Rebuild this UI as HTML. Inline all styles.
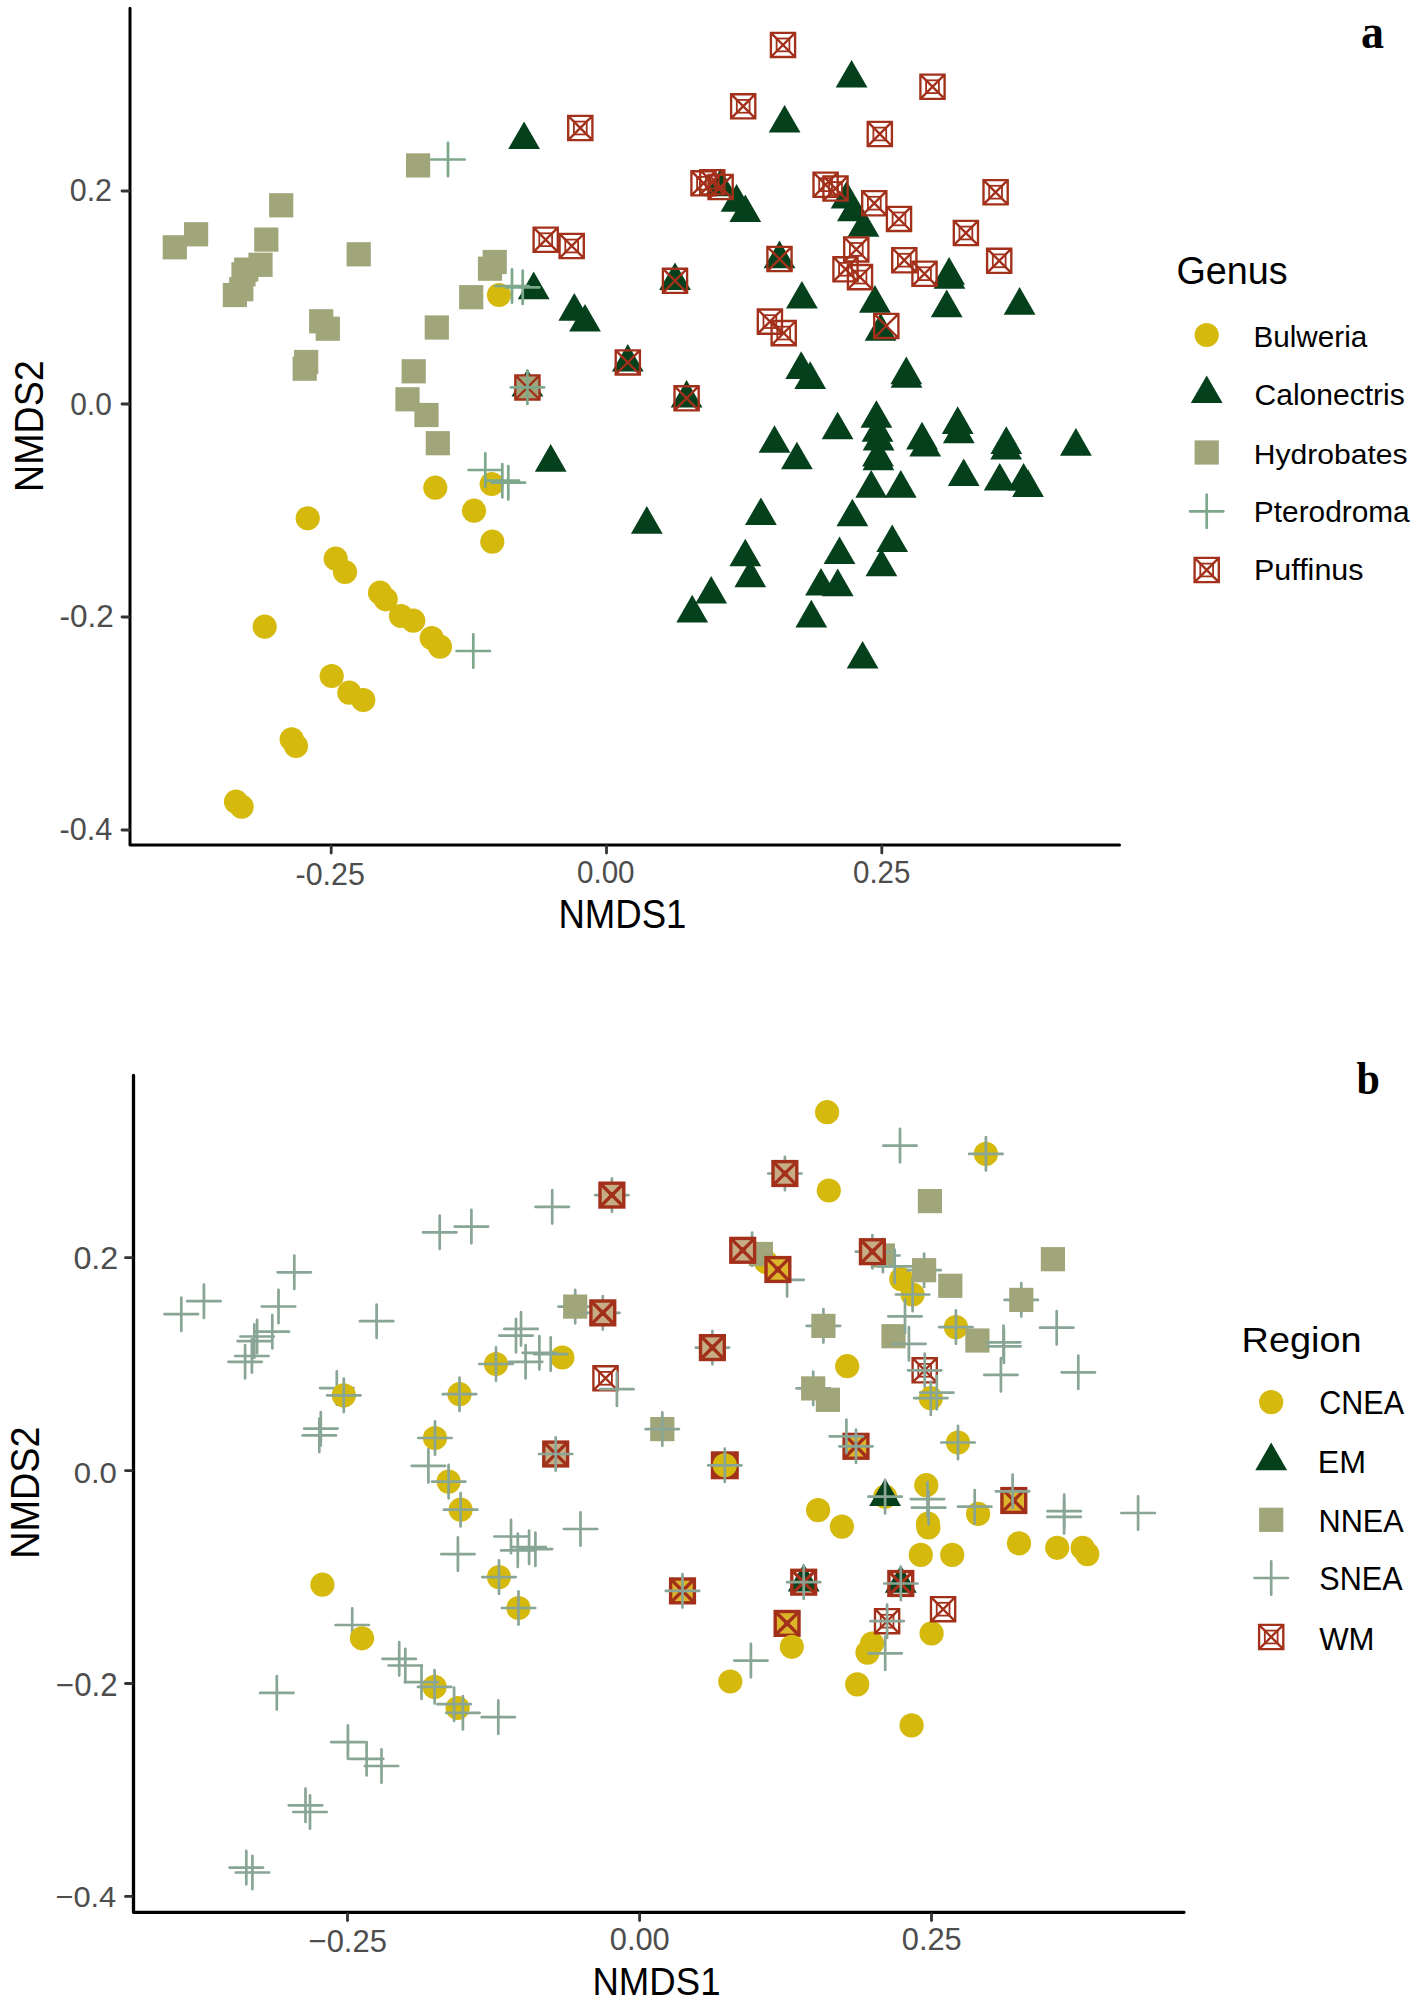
<!DOCTYPE html>
<html><head><meta charset="utf-8"><style>
html,body{margin:0;padding:0;background:#fff;overflow:hidden;}
svg{display:block;}
text{font-family:"Liberation Sans",sans-serif;}
.tk{font-size:29.5px;fill:#4D4D4D;}
.ttl{font-size:38.5px;fill:#000;}
.lg{font-size:29.5px;fill:#000;}
.lab{font-family:"Liberation Serif",serif;font-weight:bold;font-size:46px;fill:#000;}
</style></head><body>
<svg width="1416" height="2004" viewBox="0 0 1416 2004">
<rect width="1416" height="2004" fill="#fff"/>
<g id="a">
<path d="M130 8.3V845H1119.5" stroke="#000" stroke-width="3" fill="none" stroke-linecap="round" stroke-linejoin="round"/>
<path d="M122 191.0H129" stroke="#333" stroke-width="2.8" stroke-linecap="round"/>
<path d="M122 404.0H129" stroke="#333" stroke-width="2.8" stroke-linecap="round"/>
<path d="M122 617.0H129" stroke="#333" stroke-width="2.8" stroke-linecap="round"/>
<path d="M122 830.0H129" stroke="#333" stroke-width="2.8" stroke-linecap="round"/>
<path d="M331.2 846V853" stroke="#333" stroke-width="2.8" stroke-linecap="round"/>
<path d="M606.5 846V853" stroke="#333" stroke-width="2.8" stroke-linecap="round"/>
<path d="M881.8 846V853" stroke="#333" stroke-width="2.8" stroke-linecap="round"/>
<rect x="406" y="153.3" width="24.2" height="24.2" fill="#A1A57A"/>
<rect x="269.1" y="193.2" width="24.2" height="24.2" fill="#A1A57A"/>
<rect x="184" y="222.2" width="24.2" height="24.2" fill="#A1A57A"/>
<rect x="162.7" y="235.2" width="24.2" height="24.2" fill="#A1A57A"/>
<rect x="254.2" y="227.5" width="24.2" height="24.2" fill="#A1A57A"/>
<rect x="346.6" y="242.2" width="24.2" height="24.2" fill="#A1A57A"/>
<rect x="248.4" y="252.7" width="24.2" height="24.2" fill="#A1A57A"/>
<rect x="234.1" y="257.5" width="24.2" height="24.2" fill="#A1A57A"/>
<rect x="231.4" y="262.2" width="24.2" height="24.2" fill="#A1A57A"/>
<rect x="229.2" y="277.1" width="24.2" height="24.2" fill="#A1A57A"/>
<rect x="222.8" y="282.9" width="24.2" height="24.2" fill="#A1A57A"/>
<rect x="482.6" y="249.9" width="24.2" height="24.2" fill="#A1A57A"/>
<rect x="477.9" y="256.6" width="24.2" height="24.2" fill="#A1A57A"/>
<rect x="459.1" y="285.1" width="24.2" height="24.2" fill="#A1A57A"/>
<rect x="424.7" y="315.4" width="24.2" height="24.2" fill="#A1A57A"/>
<rect x="309.1" y="309.2" width="24.2" height="24.2" fill="#A1A57A"/>
<rect x="315.7" y="316.6" width="24.2" height="24.2" fill="#A1A57A"/>
<rect x="294.1" y="349.9" width="24.2" height="24.2" fill="#A1A57A"/>
<rect x="292.6" y="356.6" width="24.2" height="24.2" fill="#A1A57A"/>
<rect x="401.6" y="359.2" width="24.2" height="24.2" fill="#A1A57A"/>
<rect x="395.4" y="387.2" width="24.2" height="24.2" fill="#A1A57A"/>
<rect x="414.4" y="402.9" width="24.2" height="24.2" fill="#A1A57A"/>
<rect x="425.7" y="431.1" width="24.2" height="24.2" fill="#A1A57A"/>
<circle cx="499" cy="295" r="12.1" fill="#D5B90C"/>
<circle cx="435.3" cy="487.7" r="12.1" fill="#D5B90C"/>
<circle cx="307.7" cy="518.3" r="12.1" fill="#D5B90C"/>
<circle cx="474" cy="510.7" r="12.1" fill="#D5B90C"/>
<circle cx="491.7" cy="484" r="12.1" fill="#D5B90C"/>
<circle cx="492.3" cy="541.7" r="12.1" fill="#D5B90C"/>
<circle cx="335.7" cy="558.7" r="12.1" fill="#D5B90C"/>
<circle cx="345" cy="572" r="12.1" fill="#D5B90C"/>
<circle cx="380" cy="592.7" r="12.1" fill="#D5B90C"/>
<circle cx="385.7" cy="599.3" r="12.1" fill="#D5B90C"/>
<circle cx="401" cy="616" r="12.1" fill="#D5B90C"/>
<circle cx="413.3" cy="620.7" r="12.1" fill="#D5B90C"/>
<circle cx="431.7" cy="638" r="12.1" fill="#D5B90C"/>
<circle cx="440" cy="646.7" r="12.1" fill="#D5B90C"/>
<circle cx="264.7" cy="626.7" r="12.1" fill="#D5B90C"/>
<circle cx="331.7" cy="676" r="12.1" fill="#D5B90C"/>
<circle cx="349.3" cy="692.7" r="12.1" fill="#D5B90C"/>
<circle cx="363.3" cy="700" r="12.1" fill="#D5B90C"/>
<circle cx="291.7" cy="739.3" r="12.1" fill="#D5B90C"/>
<circle cx="296" cy="746" r="12.1" fill="#D5B90C"/>
<circle cx="236" cy="801.7" r="12.1" fill="#D5B90C"/>
<circle cx="241.7" cy="806.7" r="12.1" fill="#D5B90C"/>
<path d="M524.1 121.4L540 149L508.2 149Z" fill="#05401C"/>
<path d="M784.6 105L800.5 132.6L768.7 132.6Z" fill="#05401C"/>
<path d="M533.7 271.6L549.6 299.2L517.8 299.2Z" fill="#05401C"/>
<path d="M574.3 293.1L590.2 320.7L558.4 320.7Z" fill="#05401C"/>
<path d="M585 304L600.9 331.6L569.1 331.6Z" fill="#05401C"/>
<path d="M550.7 444.1L566.6 471.7L534.8 471.7Z" fill="#05401C"/>
<path d="M720.6 168.6L736.5 196.2L704.7 196.2Z" fill="#05401C"/>
<path d="M736.6 184.1L752.5 211.7L720.7 211.7Z" fill="#05401C"/>
<path d="M745.3 194.4L761.2 222L729.4 222Z" fill="#05401C"/>
<path d="M851.6 60L867.5 87.6L835.7 87.6Z" fill="#05401C"/>
<path d="M846.6 181L862.5 208.6L830.7 208.6Z" fill="#05401C"/>
<path d="M852.9 193.7L868.8 221.3L837 221.3Z" fill="#05401C"/>
<path d="M863.5 209.2L879.4 236.8L847.6 236.8Z" fill="#05401C"/>
<path d="M801.9 281L817.8 308.6L786 308.6Z" fill="#05401C"/>
<path d="M874.9 285.1L890.8 312.7L859 312.7Z" fill="#05401C"/>
<path d="M949.1 257.1L965 284.7L933.2 284.7Z" fill="#05401C"/>
<path d="M949.5 261.1L965.4 288.7L933.6 288.7Z" fill="#05401C"/>
<path d="M946.7 289.6L962.6 317.2L930.8 317.2Z" fill="#05401C"/>
<path d="M1019.6 287.1L1035.5 314.7L1003.7 314.7Z" fill="#05401C"/>
<path d="M801.2 351.3L817.1 378.9L785.3 378.9Z" fill="#05401C"/>
<path d="M810.2 361.3L826.1 388.9L794.3 388.9Z" fill="#05401C"/>
<path d="M906.3 356.6L922.2 384.2L890.4 384.2Z" fill="#05401C"/>
<path d="M906.5 360.2L922.4 387.8L890.6 387.8Z" fill="#05401C"/>
<path d="M880.6 313.1L896.5 340.7L864.7 340.7Z" fill="#05401C"/>
<path d="M774.5 425.2L790.4 452.8L758.6 452.8Z" fill="#05401C"/>
<path d="M796.9 441.7L812.8 469.3L781 469.3Z" fill="#05401C"/>
<path d="M837.6 411.7L853.5 439.3L821.7 439.3Z" fill="#05401C"/>
<path d="M876.4 400.2L892.3 427.8L860.5 427.8Z" fill="#05401C"/>
<path d="M877.5 414.2L893.4 441.8L861.6 441.8Z" fill="#05401C"/>
<path d="M878.6 422.8L894.5 450.4L862.7 450.4Z" fill="#05401C"/>
<path d="M878 438.8L893.9 466.4L862.1 466.4Z" fill="#05401C"/>
<path d="M878.4 442.6L894.3 470.2L862.5 470.2Z" fill="#05401C"/>
<path d="M922 421.8L937.9 449.4L906.1 449.4Z" fill="#05401C"/>
<path d="M925.2 429L941.1 456.6L909.3 456.6Z" fill="#05401C"/>
<path d="M957.7 406.3L973.6 433.9L941.8 433.9Z" fill="#05401C"/>
<path d="M958.8 415.6L974.7 443.2L942.9 443.2Z" fill="#05401C"/>
<path d="M1006.3 426.3L1022.2 453.9L990.4 453.9Z" fill="#05401C"/>
<path d="M1006.2 432L1022.1 459.6L990.3 459.6Z" fill="#05401C"/>
<path d="M963.7 458.5L979.6 486.1L947.8 486.1Z" fill="#05401C"/>
<path d="M999.7 462.9L1015.6 490.5L983.8 490.5Z" fill="#05401C"/>
<path d="M1023.6 463L1039.5 490.6L1007.7 490.6Z" fill="#05401C"/>
<path d="M1028 469.3L1043.9 496.9L1012.1 496.9Z" fill="#05401C"/>
<path d="M1075.9 428.1L1091.8 455.7L1060 455.7Z" fill="#05401C"/>
<path d="M871.2 470.1L887.1 497.7L855.3 497.7Z" fill="#05401C"/>
<path d="M900.8 470.1L916.7 497.7L884.9 497.7Z" fill="#05401C"/>
<path d="M646.8 506.1L662.7 533.7L630.9 533.7Z" fill="#05401C"/>
<path d="M760.9 497.4L776.8 525L745 525Z" fill="#05401C"/>
<path d="M852.4 498.7L868.3 526.3L836.5 526.3Z" fill="#05401C"/>
<path d="M745.3 538.7L761.2 566.3L729.4 566.3Z" fill="#05401C"/>
<path d="M750.3 559.6L766.2 587.2L734.4 587.2Z" fill="#05401C"/>
<path d="M892.2 524.5L908.1 552.1L876.3 552.1Z" fill="#05401C"/>
<path d="M839.5 536.5L855.4 564.1L823.6 564.1Z" fill="#05401C"/>
<path d="M881.4 548.7L897.3 576.3L865.5 576.3Z" fill="#05401C"/>
<path d="M821 567.9L836.9 595.5L805.1 595.5Z" fill="#05401C"/>
<path d="M837.7 568.6L853.6 596.2L821.8 596.2Z" fill="#05401C"/>
<path d="M711.2 576L727.1 603.6L695.3 603.6Z" fill="#05401C"/>
<path d="M692.2 594.8L708.1 622.4L676.3 622.4Z" fill="#05401C"/>
<path d="M811.3 599.8L827.2 627.4L795.4 627.4Z" fill="#05401C"/>
<path d="M862.6 640.9L878.5 668.5L846.7 668.5Z" fill="#05401C"/>
<path d="M568.2 115.9h24.2v24.2h-24.2z M568.2 115.9L592.4 140.1M592.4 115.9L568.2 140.1" stroke="#A3301A" stroke-width="2.35" fill="none"/><rect x="573.9" y="121.6" width="12.8" height="12.8" stroke="#A3301A" stroke-width="1.8" fill="none"/>
<path d="M731.1 94.2h24.2v24.2h-24.2z M731.1 94.2L755.3 118.4M755.3 94.2L731.1 118.4" stroke="#A3301A" stroke-width="2.35" fill="none"/><rect x="736.8" y="99.9" width="12.8" height="12.8" stroke="#A3301A" stroke-width="1.8" fill="none"/>
<path d="M770.9 32.8h24.2v24.2h-24.2z M770.9 32.8L795.1 57M795.1 32.8L770.9 57" stroke="#A3301A" stroke-width="2.35" fill="none"/><rect x="776.6" y="38.5" width="12.8" height="12.8" stroke="#A3301A" stroke-width="1.8" fill="none"/>
<path d="M533.6 227.6h24.2v24.2h-24.2z M533.6 227.6L557.8 251.8M557.8 227.6L533.6 251.8" stroke="#A3301A" stroke-width="2.35" fill="none"/><rect x="539.3" y="233.3" width="12.8" height="12.8" stroke="#A3301A" stroke-width="1.8" fill="none"/>
<path d="M559.6 233.9h24.2v24.2h-24.2z M559.6 233.9L583.8 258.1M583.8 233.9L559.6 258.1" stroke="#A3301A" stroke-width="2.35" fill="none"/><rect x="565.3" y="239.6" width="12.8" height="12.8" stroke="#A3301A" stroke-width="1.8" fill="none"/>
<path d="M691.4 171.2h24.2v24.2h-24.2z M691.4 171.2L715.6 195.4M715.6 171.2L691.4 195.4" stroke="#A3301A" stroke-width="2.35" fill="none"/><rect x="697.1" y="176.9" width="12.8" height="12.8" stroke="#A3301A" stroke-width="1.8" fill="none"/>
<path d="M700.2 170.1h24.2v24.2h-24.2z M700.2 170.1L724.4 194.3M724.4 170.1L700.2 194.3" stroke="#A3301A" stroke-width="2.35" fill="none"/><rect x="705.9" y="175.8" width="12.8" height="12.8" stroke="#A3301A" stroke-width="1.8" fill="none"/>
<path d="M920.4 74.6h24.2v24.2h-24.2z M920.4 74.6L944.6 98.8M944.6 74.6L920.4 98.8" stroke="#A3301A" stroke-width="2.35" fill="none"/><rect x="926.1" y="80.3" width="12.8" height="12.8" stroke="#A3301A" stroke-width="1.8" fill="none"/>
<path d="M867.7 121.9h24.2v24.2h-24.2z M867.7 121.9L891.9 146.1M891.9 121.9L867.7 146.1" stroke="#A3301A" stroke-width="2.35" fill="none"/><rect x="873.4" y="127.6" width="12.8" height="12.8" stroke="#A3301A" stroke-width="1.8" fill="none"/>
<path d="M813.5 172.6h24.2v24.2h-24.2z M813.5 172.6L837.7 196.8M837.7 172.6L813.5 196.8" stroke="#A3301A" stroke-width="2.35" fill="none"/><rect x="819.2" y="178.3" width="12.8" height="12.8" stroke="#A3301A" stroke-width="1.8" fill="none"/>
<path d="M823.4 176.4h24.2v24.2h-24.2z M823.4 176.4L847.6 200.6M847.6 176.4L823.4 200.6" stroke="#A3301A" stroke-width="2.35" fill="none"/><rect x="829.1" y="182.1" width="12.8" height="12.8" stroke="#A3301A" stroke-width="1.8" fill="none"/>
<path d="M862.2 191.1h24.2v24.2h-24.2z M862.2 191.1L886.4 215.3M886.4 191.1L862.2 215.3" stroke="#A3301A" stroke-width="2.35" fill="none"/><rect x="867.9" y="196.8" width="12.8" height="12.8" stroke="#A3301A" stroke-width="1.8" fill="none"/>
<path d="M886.9 206.8h24.2v24.2h-24.2z M886.9 206.8L911.1 231M911.1 206.8L886.9 231" stroke="#A3301A" stroke-width="2.35" fill="none"/><rect x="892.6" y="212.5" width="12.8" height="12.8" stroke="#A3301A" stroke-width="1.8" fill="none"/>
<path d="M983.5 180.1h24.2v24.2h-24.2z M983.5 180.1L1007.7 204.3M1007.7 180.1L983.5 204.3" stroke="#A3301A" stroke-width="2.35" fill="none"/><rect x="989.2" y="185.8" width="12.8" height="12.8" stroke="#A3301A" stroke-width="1.8" fill="none"/>
<path d="M953.8 220.9h24.2v24.2h-24.2z M953.8 220.9L978 245.1M978 220.9L953.8 245.1" stroke="#A3301A" stroke-width="2.35" fill="none"/><rect x="959.5" y="226.6" width="12.8" height="12.8" stroke="#A3301A" stroke-width="1.8" fill="none"/>
<path d="M844.2 237.3h24.2v24.2h-24.2z M844.2 237.3L868.4 261.5M868.4 237.3L844.2 261.5" stroke="#A3301A" stroke-width="2.35" fill="none"/><rect x="849.9" y="243" width="12.8" height="12.8" stroke="#A3301A" stroke-width="1.8" fill="none"/>
<path d="M833.4 257.2h24.2v24.2h-24.2z M833.4 257.2L857.6 281.4M857.6 257.2L833.4 281.4" stroke="#A3301A" stroke-width="2.35" fill="none"/><rect x="839.1" y="262.9" width="12.8" height="12.8" stroke="#A3301A" stroke-width="1.8" fill="none"/>
<path d="M847.9 265h24.2v24.2h-24.2z M847.9 265L872.1 289.2M872.1 265L847.9 289.2" stroke="#A3301A" stroke-width="2.35" fill="none"/><rect x="853.6" y="270.7" width="12.8" height="12.8" stroke="#A3301A" stroke-width="1.8" fill="none"/>
<path d="M892.2 248.1h24.2v24.2h-24.2z M892.2 248.1L916.4 272.3M916.4 248.1L892.2 272.3" stroke="#A3301A" stroke-width="2.35" fill="none"/><rect x="897.9" y="253.8" width="12.8" height="12.8" stroke="#A3301A" stroke-width="1.8" fill="none"/>
<path d="M912.4 261.6h24.2v24.2h-24.2z M912.4 261.6L936.6 285.8M936.6 261.6L912.4 285.8" stroke="#A3301A" stroke-width="2.35" fill="none"/><rect x="918.1" y="267.3" width="12.8" height="12.8" stroke="#A3301A" stroke-width="1.8" fill="none"/>
<path d="M987.1 248.7h24.2v24.2h-24.2z M987.1 248.7L1011.3 272.9M1011.3 248.7L987.1 272.9" stroke="#A3301A" stroke-width="2.35" fill="none"/><rect x="992.8" y="254.4" width="12.8" height="12.8" stroke="#A3301A" stroke-width="1.8" fill="none"/>
<path d="M757.8 309.5h24.2v24.2h-24.2z M757.8 309.5L782 333.7M782 309.5L757.8 333.7" stroke="#A3301A" stroke-width="2.35" fill="none"/><rect x="763.5" y="315.2" width="12.8" height="12.8" stroke="#A3301A" stroke-width="1.8" fill="none"/>
<path d="M771.6 321h24.2v24.2h-24.2z M771.6 321L795.8 345.2M795.8 321L771.6 345.2" stroke="#A3301A" stroke-width="2.35" fill="none"/><rect x="777.3" y="326.7" width="12.8" height="12.8" stroke="#A3301A" stroke-width="1.8" fill="none"/>
<path d="M708.5 174.9h24.2v24.2h-24.2z M708.5 174.9L732.7 199.1M732.7 174.9L708.5 199.1" stroke="#A3301A" stroke-width="2.35" fill="none"/>
<path d="M675 262.4L690.9 290L659.1 290Z" fill="#05401C"/>
<path d="M662.9 268.7h24.2v24.2h-24.2z M662.9 268.7L687.1 292.9M687.1 268.7L662.9 292.9" stroke="#A3301A" stroke-width="2.35" fill="none"/>
<path d="M779.5 240.6L795.4 268.2L763.6 268.2Z" fill="#05401C"/>
<path d="M767.4 246.9h24.2v24.2h-24.2z M767.4 246.9L791.6 271.1M791.6 246.9L767.4 271.1" stroke="#A3301A" stroke-width="2.35" fill="none"/>
<path d="M527.4 369L543.3 396.6L511.5 396.6Z" fill="#05401C"/>
<rect x="515.3" y="375.3" width="24.2" height="24.2" fill="#A1A57A"/>
<path d="M515.3 375.3h24.2v24.2h-24.2z M515.3 375.3L539.5 399.5M539.5 375.3L515.3 399.5" stroke="#A3301A" stroke-width="2.35" fill="none"/>
<path d="M510.7 387.4H544.1M527.4 370.7V404.1" stroke="#7DA88B" stroke-width="2.7" fill="none" stroke-linecap="round"/>
<path d="M627.8 344L643.7 371.6L611.9 371.6Z" fill="#05401C"/>
<path d="M615.7 350.3h24.2v24.2h-24.2z M615.7 350.3L639.9 374.5M639.9 350.3L615.7 374.5" stroke="#A3301A" stroke-width="2.35" fill="none"/>
<path d="M686.6 379.9L702.5 407.5L670.7 407.5Z" fill="#05401C"/>
<path d="M674.5 386.2h24.2v24.2h-24.2z M674.5 386.2L698.7 410.4M698.7 386.2L674.5 410.4" stroke="#A3301A" stroke-width="2.35" fill="none"/>
<path d="M874.2 313.8h24.2v24.2h-24.2z M874.2 313.8L898.4 338M898.4 313.8L874.2 338" stroke="#A3301A" stroke-width="2.35" fill="none"/>
<path d="M431.3 159.5H464.7M448 142.8V176.2" stroke="#7DA88B" stroke-width="2.7" fill="none" stroke-linecap="round"/>
<path d="M495.3 286H528.7M512 269.3V302.7" stroke="#7DA88B" stroke-width="2.7" fill="none" stroke-linecap="round"/>
<path d="M506 287.3H539.4M522.7 270.6V304" stroke="#7DA88B" stroke-width="2.7" fill="none" stroke-linecap="round"/>
<path d="M468.6 470H502M485.3 453.3V486.7" stroke="#7DA88B" stroke-width="2.7" fill="none" stroke-linecap="round"/>
<path d="M485.6 480.7H519M502.3 464V497.4" stroke="#7DA88B" stroke-width="2.7" fill="none" stroke-linecap="round"/>
<path d="M491.6 482.7H525M508.3 466V499.4" stroke="#7DA88B" stroke-width="2.7" fill="none" stroke-linecap="round"/>
<path d="M456.6 651H490M473.3 634.3V667.7" stroke="#7DA88B" stroke-width="2.7" fill="none" stroke-linecap="round"/>
<circle cx="1206.7" cy="335" r="12.1" fill="#D5B90C"/>
<path d="M1206.7 375.4L1222.6 403L1190.8 403Z" fill="#05401C"/>
<rect x="1194.6" y="440.4" width="24.2" height="24.2" fill="#A1A57A"/>
<path d="M1190 511.3H1223.4M1206.7 494.6V528" stroke="#7DA88B" stroke-width="2.7" fill="none" stroke-linecap="round"/>
<path d="M1194.6 557.9h24.2v24.2h-24.2z M1194.6 557.9L1218.8 582.1M1218.8 557.9L1194.6 582.1" stroke="#A3301A" stroke-width="2.35" fill="none"/><rect x="1200.3" y="563.6" width="12.8" height="12.8" stroke="#A3301A" stroke-width="1.8" fill="none"/>
</g>
<g id="b">
<path d="M133.5 1075.5V1912.3H1184" stroke="#000" stroke-width="3.3" fill="none" stroke-linecap="round" stroke-linejoin="round"/>
<path d="M125.5 1257.7H132" stroke="#333" stroke-width="2.8" stroke-linecap="round"/>
<path d="M125.5 1470.6H132" stroke="#333" stroke-width="2.8" stroke-linecap="round"/>
<path d="M125.5 1683.5H132" stroke="#333" stroke-width="2.8" stroke-linecap="round"/>
<path d="M125.5 1896.4H132" stroke="#333" stroke-width="2.8" stroke-linecap="round"/>
<path d="M347.5 1914V1920.5" stroke="#333" stroke-width="2.8" stroke-linecap="round"/>
<path d="M639.6 1914V1920.5" stroke="#333" stroke-width="2.8" stroke-linecap="round"/>
<path d="M931.5 1914V1920.5" stroke="#333" stroke-width="2.8" stroke-linecap="round"/>
<path d="M320.1 1388.1H353.5M336.8 1371.4V1404.8" stroke="#89A595" stroke-width="2.7" fill="none" stroke-linecap="round"/>
<path d="M335.5 1625H368.9M352.2 1608.3V1641.7" stroke="#89A595" stroke-width="2.7" fill="none" stroke-linecap="round"/>
<path d="M735.4 1249.2H768.8M752.1 1232.5V1265.9" stroke="#89A595" stroke-width="2.7" fill="none" stroke-linecap="round"/>
<path d="M770.4 1279.8H803.8M787.1 1263.1V1296.5" stroke="#89A595" stroke-width="2.7" fill="none" stroke-linecap="round"/>
<circle cx="322.4" cy="1584.7" r="12.1" fill="#D5B90C"/>
<circle cx="343.8" cy="1395.4" r="12.1" fill="#D5B90C"/>
<path d="M327.1 1395.4H360.5M343.8 1378.7V1412.1" stroke="#89A595" stroke-width="2.7" fill="none" stroke-linecap="round"/>
<circle cx="362" cy="1638.3" r="12.1" fill="#D5B90C"/>
<circle cx="434.6" cy="1686.9" r="12.1" fill="#D5B90C"/>
<path d="M417.9 1686.9H451.3M434.6 1670.2V1703.6" stroke="#89A595" stroke-width="2.7" fill="none" stroke-linecap="round"/>
<circle cx="435" cy="1438" r="12.1" fill="#D5B90C"/>
<path d="M418.3 1438H451.7M435 1421.3V1454.7" stroke="#89A595" stroke-width="2.7" fill="none" stroke-linecap="round"/>
<circle cx="448.6" cy="1481.6" r="12.1" fill="#D5B90C"/>
<path d="M431.9 1481.6H465.3M448.6 1464.9V1498.3" stroke="#89A595" stroke-width="2.7" fill="none" stroke-linecap="round"/>
<circle cx="457.6" cy="1708" r="12.1" fill="#D5B90C"/>
<circle cx="459.5" cy="1394.2" r="12.1" fill="#D5B90C"/>
<path d="M442.8 1394.2H476.2M459.5 1377.5V1410.9" stroke="#89A595" stroke-width="2.7" fill="none" stroke-linecap="round"/>
<circle cx="460.6" cy="1509.7" r="12.1" fill="#D5B90C"/>
<path d="M443.9 1509.7H477.3M460.6 1493V1526.4" stroke="#89A595" stroke-width="2.7" fill="none" stroke-linecap="round"/>
<circle cx="496" cy="1364" r="12.1" fill="#D5B90C"/>
<path d="M479.3 1364H512.7M496 1347.3V1380.7" stroke="#89A595" stroke-width="2.7" fill="none" stroke-linecap="round"/>
<circle cx="499" cy="1577.1" r="12.1" fill="#D5B90C"/>
<path d="M482.3 1577.1H515.7M499 1560.4V1593.8" stroke="#89A595" stroke-width="2.7" fill="none" stroke-linecap="round"/>
<circle cx="518.5" cy="1608" r="12.1" fill="#D5B90C"/>
<path d="M501.8 1608H535.2M518.5 1591.3V1624.7" stroke="#89A595" stroke-width="2.7" fill="none" stroke-linecap="round"/>
<circle cx="562.4" cy="1357.5" r="12.1" fill="#D5B90C"/>
<rect x="543.8" y="1442.1" width="23.8" height="23.8" fill="#C6AD86" stroke="#A3301A" stroke-width="3.4"/><path d="M543.8 1442.1L567.6 1465.9M567.6 1442.1L543.8 1465.9" stroke="#A3301A" stroke-width="3.4"/><rect x="552.7" y="1451" width="6" height="6" fill="#A3301A"/>
<path d="M539 1454H572.4M555.7 1437.3V1470.7" stroke="#89A595" stroke-width="2.7" fill="none" stroke-linecap="round"/>
<path d="M558.5 1306.6H591.9M575.2 1289.9V1323.3" stroke="#89A595" stroke-width="2.7" fill="none" stroke-linecap="round"/>
<rect x="563.1" y="1294.5" width="24.2" height="24.2" fill="#A1A57A"/>
<path d="M586.1 1312.9H619.5M602.8 1296.2V1329.6" stroke="#89A595" stroke-width="2.7" fill="none" stroke-linecap="round"/>
<rect x="590.9" y="1301" width="23.8" height="23.8" fill="#C6AD86" stroke="#A3301A" stroke-width="3.4"/><path d="M590.9 1301L614.7 1324.8M614.7 1301L590.9 1324.8" stroke="#A3301A" stroke-width="3.4"/><rect x="599.8" y="1309.9" width="6" height="6" fill="#A3301A"/>
<path d="M593.4 1366.2h24.2v24.2h-24.2z M593.4 1366.2L617.6 1390.4M617.6 1366.2L593.4 1390.4" stroke="#A3301A" stroke-width="2.35" fill="none"/><rect x="599.1" y="1371.9" width="12.8" height="12.8" stroke="#A3301A" stroke-width="1.8" fill="none"/>
<path d="M595.2 1195.1H628.6M611.9 1178.4V1211.8" stroke="#89A595" stroke-width="2.7" fill="none" stroke-linecap="round"/>
<rect x="600" y="1183.2" width="23.8" height="23.8" fill="#C6AD86" stroke="#A3301A" stroke-width="3.4"/><path d="M600 1183.2L623.8 1207M623.8 1183.2L600 1207" stroke="#A3301A" stroke-width="3.4"/><rect x="608.9" y="1192.1" width="6" height="6" fill="#A3301A"/>
<rect x="650.2" y="1417" width="24.2" height="24.2" fill="#A1A57A"/>
<path d="M645.6 1429.1H679M662.3 1412.4V1445.8" stroke="#89A595" stroke-width="2.7" fill="none" stroke-linecap="round"/>
<rect x="670.6" y="1579" width="23.8" height="23.8" fill="#DDB52A" stroke="#A3301A" stroke-width="3.4"/><path d="M670.6 1579L694.4 1602.8M694.4 1579L670.6 1602.8" stroke="#A3301A" stroke-width="3.4"/><rect x="679.5" y="1587.9" width="6" height="6" fill="#A3301A"/>
<path d="M665.8 1590.9H699.2M682.5 1574.2V1607.6" stroke="#89A595" stroke-width="2.7" fill="none" stroke-linecap="round"/>
<path d="M695.7 1347.6H729.1M712.4 1330.9V1364.3" stroke="#89A595" stroke-width="2.7" fill="none" stroke-linecap="round"/>
<rect x="700.5" y="1335.7" width="23.8" height="23.8" fill="#C6AD86" stroke="#A3301A" stroke-width="3.4"/><path d="M700.5 1335.7L724.3 1359.5M724.3 1335.7L700.5 1359.5" stroke="#A3301A" stroke-width="3.4"/><rect x="709.4" y="1344.6" width="6" height="6" fill="#A3301A"/>
<rect x="710.8" y="1451.3" width="28" height="28" fill="#A3301A"/>
<circle cx="724.8" cy="1465.3" r="12.1" fill="#D5B90C"/>
<path d="M708.1 1465.3H741.5M724.8 1448.6V1482" stroke="#89A595" stroke-width="2.7" fill="none" stroke-linecap="round"/>
<circle cx="730.3" cy="1681.5" r="12.1" fill="#D5B90C"/>
<circle cx="766" cy="1262" r="12.1" fill="#D5B90C"/>
<rect x="748.8" y="1241.9" width="24.2" height="24.2" fill="#A1A57A"/>
<rect x="730.8" y="1238.4" width="23.8" height="23.8" fill="#C6AD86" stroke="#A3301A" stroke-width="3.4"/><path d="M730.8 1238.4L754.6 1262.2M754.6 1238.4L730.8 1262.2" stroke="#A3301A" stroke-width="3.4"/><rect x="739.7" y="1247.3" width="6" height="6" fill="#A3301A"/>
<rect x="766" y="1257.6" width="23.8" height="23.8" fill="#DDB52A" stroke="#A3301A" stroke-width="3.4"/><path d="M766 1257.6L789.8 1281.4M789.8 1257.6L766 1281.4" stroke="#A3301A" stroke-width="3.4"/><rect x="774.9" y="1266.5" width="6" height="6" fill="#A3301A"/>
<path d="M768.2 1173.5H801.6M784.9 1156.8V1190.2" stroke="#89A595" stroke-width="2.7" fill="none" stroke-linecap="round"/>
<rect x="773" y="1161.6" width="23.8" height="23.8" fill="#C6AD86" stroke="#A3301A" stroke-width="3.4"/><path d="M773 1161.6L796.8 1185.4M796.8 1161.6L773 1185.4" stroke="#A3301A" stroke-width="3.4"/><rect x="781.9" y="1170.5" width="6" height="6" fill="#A3301A"/>
<rect x="775.2" y="1611.5" width="23.8" height="23.8" fill="#DDB52A" stroke="#A3301A" stroke-width="3.4"/><path d="M775.2 1611.5L799 1635.3M799 1611.5L775.2 1635.3" stroke="#A3301A" stroke-width="3.4"/><rect x="784.1" y="1620.4" width="6" height="6" fill="#A3301A"/>
<circle cx="791.8" cy="1646.8" r="12.1" fill="#D5B90C"/>
<path d="M803.7 1563.8L819.6 1591.4L787.8 1591.4Z" fill="#05401C"/><rect x="791.8" y="1570.3" width="23.8" height="23.8" fill="none" stroke="#A3301A" stroke-width="3.4"/><path d="M791.8 1570.3L815.6 1594.1M815.6 1570.3L791.8 1594.1" stroke="#A3301A" stroke-width="3.4"/><rect x="800.7" y="1579.2" width="6" height="6" fill="#A3301A"/>
<path d="M787 1582.2H820.4M803.7 1565.5V1598.9" stroke="#89A595" stroke-width="2.7" fill="none" stroke-linecap="round"/>
<path d="M796.5 1388.4H829.9M813.2 1371.7V1405.1" stroke="#89A595" stroke-width="2.7" fill="none" stroke-linecap="round"/>
<rect x="801.1" y="1376.3" width="24.2" height="24.2" fill="#A1A57A"/>
<circle cx="818.1" cy="1510.1" r="12.1" fill="#D5B90C"/>
<path d="M806.7 1325.9H840.1M823.4 1309.2V1342.6" stroke="#89A595" stroke-width="2.7" fill="none" stroke-linecap="round"/>
<rect x="811.3" y="1313.8" width="24.2" height="24.2" fill="#A1A57A"/>
<circle cx="827.1" cy="1112.2" r="12.1" fill="#D5B90C"/>
<rect x="815.8" y="1387.7" width="24.2" height="24.2" fill="#A1A57A"/>
<circle cx="828.8" cy="1190.5" r="12.1" fill="#D5B90C"/>
<circle cx="841.9" cy="1526.6" r="12.1" fill="#D5B90C"/>
<circle cx="847.2" cy="1366.2" r="12.1" fill="#D5B90C"/>
<rect x="844.1" y="1434.4" width="23.8" height="23.8" fill="#DDB52A" stroke="#A3301A" stroke-width="3.4"/><path d="M844.1 1434.4L867.9 1458.2M867.9 1434.4L844.1 1458.2" stroke="#A3301A" stroke-width="3.4"/><rect x="853" y="1443.3" width="6" height="6" fill="#A3301A"/>
<path d="M839.3 1446.3H872.7M856 1429.6V1463" stroke="#89A595" stroke-width="2.7" fill="none" stroke-linecap="round"/>
<circle cx="857.2" cy="1684.4" r="12.1" fill="#D5B90C"/>
<circle cx="872" cy="1643.5" r="12.1" fill="#D5B90C"/>
<circle cx="867.5" cy="1652.6" r="12.1" fill="#D5B90C"/>
<path d="M866.2 1255.5H899.6M882.9 1238.8V1272.2" stroke="#89A595" stroke-width="2.7" fill="none" stroke-linecap="round"/>
<rect x="870.8" y="1243.4" width="24.2" height="24.2" fill="#A1A57A"/>
<path d="M855.7 1251.7H889.1M872.4 1235V1268.4" stroke="#89A595" stroke-width="2.7" fill="none" stroke-linecap="round"/>
<rect x="860.5" y="1239.8" width="23.8" height="23.8" fill="#C6AD86" stroke="#A3301A" stroke-width="3.4"/><path d="M860.5 1239.8L884.3 1263.6M884.3 1239.8L860.5 1263.6" stroke="#A3301A" stroke-width="3.4"/><rect x="869.4" y="1248.7" width="6" height="6" fill="#A3301A"/>
<circle cx="885.1" cy="1496.7" r="12.1" fill="#D5B90C"/>
<path d="M885.1 1478.3L901 1505.9L869.2 1505.9Z" fill="#05401C"/>
<path d="M868.4 1496.7H901.8M885.1 1480V1513.4" stroke="#89A595" stroke-width="2.7" fill="none" stroke-linecap="round"/>
<path d="M875 1609.1h24.2v24.2h-24.2z M875 1609.1L899.2 1633.3M899.2 1609.1L875 1633.3" stroke="#A3301A" stroke-width="2.35" fill="none"/><rect x="880.7" y="1614.8" width="12.8" height="12.8" stroke="#A3301A" stroke-width="1.8" fill="none"/>
<path d="M870.4 1621.2H903.8M887.1 1604.5V1637.9" stroke="#89A595" stroke-width="2.7" fill="none" stroke-linecap="round"/>
<rect x="881.4" y="1324.1" width="24.2" height="24.2" fill="#A1A57A"/>
<path d="M900.8 1565.1L916.7 1592.7L884.9 1592.7Z" fill="#05401C"/><rect x="888.9" y="1571.6" width="23.8" height="23.8" fill="none" stroke="#A3301A" stroke-width="3.4"/><path d="M888.9 1571.6L912.7 1595.4M912.7 1571.6L888.9 1595.4" stroke="#A3301A" stroke-width="3.4"/><rect x="897.8" y="1580.5" width="6" height="6" fill="#A3301A"/>
<path d="M884.1 1583.5H917.5M900.8 1566.8V1600.2" stroke="#89A595" stroke-width="2.7" fill="none" stroke-linecap="round"/>
<circle cx="901.3" cy="1279.1" r="12.1" fill="#D5B90C"/>
<circle cx="911.6" cy="1725.4" r="12.1" fill="#D5B90C"/>
<circle cx="912.6" cy="1294.5" r="12.1" fill="#D5B90C"/>
<path d="M895.9 1294.5H929.3M912.6 1277.8V1311.2" stroke="#89A595" stroke-width="2.7" fill="none" stroke-linecap="round"/>
<circle cx="920.8" cy="1554.9" r="12.1" fill="#D5B90C"/>
<path d="M907.4 1270.2H940.8M924.1 1253.5V1286.9" stroke="#89A595" stroke-width="2.7" fill="none" stroke-linecap="round"/>
<rect x="912" y="1258.1" width="24.2" height="24.2" fill="#A1A57A"/>
<path d="M912.6 1358.2h24.2v24.2h-24.2z M912.6 1358.2L936.8 1382.4M936.8 1358.2L912.6 1382.4" stroke="#A3301A" stroke-width="2.35" fill="none"/><rect x="918.3" y="1363.9" width="12.8" height="12.8" stroke="#A3301A" stroke-width="1.8" fill="none"/>
<path d="M908 1370.3H941.4M924.7 1353.6V1387" stroke="#89A595" stroke-width="2.7" fill="none" stroke-linecap="round"/>
<circle cx="926.3" cy="1485.2" r="12.1" fill="#D5B90C"/>
<circle cx="928" cy="1523.7" r="12.1" fill="#D5B90C"/>
<circle cx="928.4" cy="1527.5" r="12.1" fill="#D5B90C"/>
<rect x="917.8" y="1189" width="24.2" height="24.2" fill="#A1A57A"/>
<circle cx="930.8" cy="1398.2" r="12.1" fill="#D5B90C"/>
<path d="M914.1 1398.2H947.5M930.8 1381.5V1414.9" stroke="#89A595" stroke-width="2.7" fill="none" stroke-linecap="round"/>
<circle cx="931.6" cy="1633.4" r="12.1" fill="#D5B90C"/>
<path d="M931 1597.1h24.2v24.2h-24.2z M931 1597.1L955.2 1621.3M955.2 1597.1L931 1621.3" stroke="#A3301A" stroke-width="2.35" fill="none"/><rect x="936.7" y="1602.8" width="12.8" height="12.8" stroke="#A3301A" stroke-width="1.8" fill="none"/>
<rect x="938.2" y="1273.7" width="24.2" height="24.2" fill="#A1A57A"/>
<circle cx="952.2" cy="1554.9" r="12.1" fill="#D5B90C"/>
<circle cx="955.9" cy="1327.1" r="12.1" fill="#D5B90C"/>
<path d="M939.2 1327.1H972.6M955.9 1310.4V1343.8" stroke="#89A595" stroke-width="2.7" fill="none" stroke-linecap="round"/>
<circle cx="958" cy="1442.5" r="12.1" fill="#D5B90C"/>
<path d="M941.3 1442.5H974.7M958 1425.8V1459.2" stroke="#89A595" stroke-width="2.7" fill="none" stroke-linecap="round"/>
<rect x="965.3" y="1328.4" width="24.2" height="24.2" fill="#A1A57A"/>
<circle cx="978.1" cy="1513.9" r="12.1" fill="#D5B90C"/>
<circle cx="985.9" cy="1153.9" r="12.1" fill="#D5B90C"/>
<path d="M969.2 1153.9H1002.6M985.9 1137.2V1170.6" stroke="#89A595" stroke-width="2.7" fill="none" stroke-linecap="round"/>
<rect x="1001.9" y="1488.6" width="23.8" height="23.8" fill="#DDB52A" stroke="#A3301A" stroke-width="3.4"/><path d="M1001.9 1488.6L1025.7 1512.4M1025.7 1488.6L1001.9 1512.4" stroke="#A3301A" stroke-width="3.4"/><rect x="1010.8" y="1497.5" width="6" height="6" fill="#A3301A"/>
<circle cx="1019" cy="1543.4" r="12.1" fill="#D5B90C"/>
<path d="M1004.6 1299.9H1038M1021.3 1283.2V1316.6" stroke="#89A595" stroke-width="2.7" fill="none" stroke-linecap="round"/>
<rect x="1009.2" y="1287.8" width="24.2" height="24.2" fill="#A1A57A"/>
<rect x="1040.8" y="1247.1" width="24.2" height="24.2" fill="#A1A57A"/>
<circle cx="1057.2" cy="1547.8" r="12.1" fill="#D5B90C"/>
<circle cx="1082.6" cy="1547.9" r="12.1" fill="#D5B90C"/>
<circle cx="1087.3" cy="1554.1" r="12.1" fill="#D5B90C"/>
<path d="M164.6 1314.2H198M181.3 1297.5V1330.9" stroke="#89A595" stroke-width="2.7" fill="none" stroke-linecap="round"/>
<path d="M187.2 1301.2H220.6M203.9 1284.5V1317.9" stroke="#89A595" stroke-width="2.7" fill="none" stroke-linecap="round"/>
<path d="M228.4 1361.8H261.8M245.1 1345.1V1378.5" stroke="#89A595" stroke-width="2.7" fill="none" stroke-linecap="round"/>
<path d="M229.6 1867.6H263M246.3 1850.9V1884.3" stroke="#89A595" stroke-width="2.7" fill="none" stroke-linecap="round"/>
<path d="M235.2 1356H268.6M251.9 1339.3V1372.7" stroke="#89A595" stroke-width="2.7" fill="none" stroke-linecap="round"/>
<path d="M235.7 1872.5H269.1M252.4 1855.8V1889.2" stroke="#89A595" stroke-width="2.7" fill="none" stroke-linecap="round"/>
<path d="M237.6 1341.1H271M254.3 1324.4V1357.8" stroke="#89A595" stroke-width="2.7" fill="none" stroke-linecap="round"/>
<path d="M240.4 1336.5H273.8M257.1 1319.8V1353.2" stroke="#89A595" stroke-width="2.7" fill="none" stroke-linecap="round"/>
<path d="M255.6 1331.7H289M272.3 1315V1348.4" stroke="#89A595" stroke-width="2.7" fill="none" stroke-linecap="round"/>
<path d="M260.1 1692.9H293.5M276.8 1676.2V1709.6" stroke="#89A595" stroke-width="2.7" fill="none" stroke-linecap="round"/>
<path d="M261.8 1306.5H295.2M278.5 1289.8V1323.2" stroke="#89A595" stroke-width="2.7" fill="none" stroke-linecap="round"/>
<path d="M277.6 1272.3H311M294.3 1255.6V1289" stroke="#89A595" stroke-width="2.7" fill="none" stroke-linecap="round"/>
<path d="M288.8 1805.3H322.2M305.5 1788.6V1822" stroke="#89A595" stroke-width="2.7" fill="none" stroke-linecap="round"/>
<path d="M293.3 1812H326.7M310 1795.3V1828.7" stroke="#89A595" stroke-width="2.7" fill="none" stroke-linecap="round"/>
<path d="M302.6 1435.4H336M319.3 1418.7V1452.1" stroke="#89A595" stroke-width="2.7" fill="none" stroke-linecap="round"/>
<path d="M304.1 1428.7H337.5M320.8 1412V1445.4" stroke="#89A595" stroke-width="2.7" fill="none" stroke-linecap="round"/>
<path d="M331.2 1742.1H364.6M347.9 1725.4V1758.8" stroke="#89A595" stroke-width="2.7" fill="none" stroke-linecap="round"/>
<path d="M349.9 1758.8H383.3M366.6 1742.1V1775.5" stroke="#89A595" stroke-width="2.7" fill="none" stroke-linecap="round"/>
<path d="M359.9 1321.2H393.3M376.6 1304.5V1337.9" stroke="#89A595" stroke-width="2.7" fill="none" stroke-linecap="round"/>
<path d="M364.8 1766H398.2M381.5 1749.3V1782.7" stroke="#89A595" stroke-width="2.7" fill="none" stroke-linecap="round"/>
<path d="M382.5 1658.9H415.9M399.2 1642.2V1675.6" stroke="#89A595" stroke-width="2.7" fill="none" stroke-linecap="round"/>
<path d="M388.6 1665.5H422M405.3 1648.8V1682.2" stroke="#89A595" stroke-width="2.7" fill="none" stroke-linecap="round"/>
<path d="M404.8 1682.2H438.2M421.5 1665.5V1698.9" stroke="#89A595" stroke-width="2.7" fill="none" stroke-linecap="round"/>
<path d="M411.7 1465.9H445.1M428.4 1449.2V1482.6" stroke="#89A595" stroke-width="2.7" fill="none" stroke-linecap="round"/>
<path d="M423 1232.4H456.4M439.7 1215.7V1249.1" stroke="#89A595" stroke-width="2.7" fill="none" stroke-linecap="round"/>
<path d="M437.4 1704.2H470.8M454.1 1687.5V1720.9" stroke="#89A595" stroke-width="2.7" fill="none" stroke-linecap="round"/>
<path d="M441.2 1554.1H474.6M457.9 1537.4V1570.8" stroke="#89A595" stroke-width="2.7" fill="none" stroke-linecap="round"/>
<path d="M446.2 1712.8H479.6M462.9 1696.1V1729.5" stroke="#89A595" stroke-width="2.7" fill="none" stroke-linecap="round"/>
<path d="M454.7 1226.6H488.1M471.4 1209.9V1243.3" stroke="#89A595" stroke-width="2.7" fill="none" stroke-linecap="round"/>
<path d="M481.6 1717.1H515M498.3 1700.4V1733.8" stroke="#89A595" stroke-width="2.7" fill="none" stroke-linecap="round"/>
<path d="M494.3 1536.5H527.7M511 1519.8V1553.2" stroke="#89A595" stroke-width="2.7" fill="none" stroke-linecap="round"/>
<path d="M499.3 1335.6H532.7M516 1318.9V1352.3" stroke="#89A595" stroke-width="2.7" fill="none" stroke-linecap="round"/>
<path d="M501.1 1550.4H534.5M517.8 1533.7V1567.1" stroke="#89A595" stroke-width="2.7" fill="none" stroke-linecap="round"/>
<path d="M504.3 1328.9H537.7M521 1312.2V1345.6" stroke="#89A595" stroke-width="2.7" fill="none" stroke-linecap="round"/>
<path d="M508.9 1361.8H542.3M525.6 1345.1V1378.5" stroke="#89A595" stroke-width="2.7" fill="none" stroke-linecap="round"/>
<path d="M512.4 1547.2H545.8M529.1 1530.5V1563.9" stroke="#89A595" stroke-width="2.7" fill="none" stroke-linecap="round"/>
<path d="M518.7 1549.2H552.1M535.4 1532.5V1565.9" stroke="#89A595" stroke-width="2.7" fill="none" stroke-linecap="round"/>
<path d="M522.7 1352.8H556.1M539.4 1336.1V1369.5" stroke="#89A595" stroke-width="2.7" fill="none" stroke-linecap="round"/>
<path d="M534 1354.1H567.4M550.7 1337.4V1370.8" stroke="#89A595" stroke-width="2.7" fill="none" stroke-linecap="round"/>
<path d="M535.5 1206.9H568.9M552.2 1190.2V1223.6" stroke="#89A595" stroke-width="2.7" fill="none" stroke-linecap="round"/>
<path d="M563.8 1529H597.2M580.5 1512.3V1545.7" stroke="#89A595" stroke-width="2.7" fill="none" stroke-linecap="round"/>
<path d="M600.2 1389.2H633.6M616.9 1372.5V1405.9" stroke="#89A595" stroke-width="2.7" fill="none" stroke-linecap="round"/>
<path d="M734.2 1660.6H767.6M750.9 1643.9V1677.3" stroke="#89A595" stroke-width="2.7" fill="none" stroke-linecap="round"/>
<path d="M829.7 1436.4H863.1M846.4 1419.7V1453.1" stroke="#89A595" stroke-width="2.7" fill="none" stroke-linecap="round"/>
<path d="M868.5 1653.3H901.9M885.2 1636.6V1670" stroke="#89A595" stroke-width="2.7" fill="none" stroke-linecap="round"/>
<path d="M878 1266.4H911.4M894.7 1249.7V1283.1" stroke="#89A595" stroke-width="2.7" fill="none" stroke-linecap="round"/>
<path d="M883.3 1145.6H916.7M900 1128.9V1162.3" stroke="#89A595" stroke-width="2.7" fill="none" stroke-linecap="round"/>
<path d="M888.3 1316.3H921.7M905 1299.6V1333" stroke="#89A595" stroke-width="2.7" fill="none" stroke-linecap="round"/>
<path d="M892.2 1343.9H925.6M908.9 1327.2V1360.6" stroke="#89A595" stroke-width="2.7" fill="none" stroke-linecap="round"/>
<path d="M910.8 1499.1H944.2M927.5 1482.4V1515.8" stroke="#89A595" stroke-width="2.7" fill="none" stroke-linecap="round"/>
<path d="M911.9 1507.7H945.3M928.6 1491V1524.4" stroke="#89A595" stroke-width="2.7" fill="none" stroke-linecap="round"/>
<path d="M920.1 1392.6H953.5M936.8 1375.9V1409.3" stroke="#89A595" stroke-width="2.7" fill="none" stroke-linecap="round"/>
<path d="M958 1506.7H991.4M974.7 1490V1523.4" stroke="#89A595" stroke-width="2.7" fill="none" stroke-linecap="round"/>
<path d="M984.2 1374.8H1017.6M1000.9 1358.1V1391.5" stroke="#89A595" stroke-width="2.7" fill="none" stroke-linecap="round"/>
<path d="M986.8 1342.3H1020.2M1003.5 1325.6V1359" stroke="#89A595" stroke-width="2.7" fill="none" stroke-linecap="round"/>
<path d="M987.2 1346.3H1020.6M1003.9 1329.6V1363" stroke="#89A595" stroke-width="2.7" fill="none" stroke-linecap="round"/>
<path d="M995.9 1491.3H1029.3M1012.6 1474.6V1508" stroke="#89A595" stroke-width="2.7" fill="none" stroke-linecap="round"/>
<path d="M1040 1327.7H1073.4M1056.7 1311V1344.4" stroke="#89A595" stroke-width="2.7" fill="none" stroke-linecap="round"/>
<path d="M1047.4 1516.9H1080.8M1064.1 1500.2V1533.6" stroke="#89A595" stroke-width="2.7" fill="none" stroke-linecap="round"/>
<path d="M1047.5 1511.2H1080.9M1064.2 1494.5V1527.9" stroke="#89A595" stroke-width="2.7" fill="none" stroke-linecap="round"/>
<path d="M1061.6 1372.3H1095M1078.3 1355.6V1389" stroke="#89A595" stroke-width="2.7" fill="none" stroke-linecap="round"/>
<path d="M1121.4 1513H1154.8M1138.1 1496.3V1529.7" stroke="#89A595" stroke-width="2.7" fill="none" stroke-linecap="round"/>
<circle cx="1271.2" cy="1402.1" r="12.1" fill="#D5B90C"/>
<path d="M1271.2 1442.6L1287.1 1470.2L1255.3 1470.2Z" fill="#05401C"/>
<rect x="1259.1" y="1507.7" width="24.2" height="24.2" fill="#A1A57A"/>
<path d="M1254.5 1578H1287.9M1271.2 1561.3V1594.7" stroke="#89A595" stroke-width="2.7" fill="none" stroke-linecap="round"/>
<path d="M1259.1 1624.9h24.2v24.2h-24.2z M1259.1 1624.9L1283.3 1649.1M1283.3 1624.9L1259.1 1649.1" stroke="#A3301A" stroke-width="2.35" fill="none"/><rect x="1264.8" y="1630.6" width="12.8" height="12.8" stroke="#A3301A" stroke-width="1.8" fill="none"/>
</g>
<text transform="translate(69.70 201.00) scale(0.9968 1)" class="tk" style="font-size:30.57px">0.2</text>
<text transform="translate(70.20 415.20) scale(0.9788 1)" class="tk" style="font-size:30.57px">0.0</text>
<text transform="translate(59.45 627.40) scale(1.0308 1)" class="tk" style="font-size:30.57px">-0.2</text>
<text transform="translate(59.45 840.00) scale(1.0020 1)" class="tk" style="font-size:30.57px">-0.4</text>
<text transform="translate(295.50 884.50) scale(0.9656 1)" class="tk" style="font-size:31.54px">-0.25</text>
<text transform="translate(576.95 883.20) scale(0.9495 1)" class="tk" style="font-size:31.19px">0.00</text>
<text transform="translate(853.00 883.20) scale(0.9459 1)" class="tk" style="font-size:31.19px">0.25</text>
<text transform="translate(558.45 927.60) scale(0.9032 1)" class="ttl" style="font-size:40.51px">NMDS1</text>
<text transform="translate(43.15 491.90) rotate(-90) scale(0.9404 1)" class="ttl" style="font-size:40.01px">NMDS2</text>
<text transform="translate(1176.50 284.00) scale(0.9809 1)" class="ttl" style="font-size:38.50px">Genus</text>
<text transform="translate(1253.50 346.50) scale(1.0380 1)" class="lg" style="font-size:28.60px">Bulweria</text>
<text transform="translate(1254.50 405.35) scale(1.0490 1)" class="lg" style="font-size:28.66px">Calonectris</text>
<text transform="translate(1253.70 464.25) scale(1.0700 1)" class="lg" style="font-size:28.12px">Hydrobates</text>
<text transform="translate(1253.85 521.85) scale(1.0330 1)" class="lg" style="font-size:28.89px">Pterodroma</text>
<text transform="translate(1254.00 580.45) scale(1.0546 1)" class="lg" style="font-size:28.89px">Puffinus</text>
<text transform="translate(1361.00 48.05) scale(0.9433 1)" class="lab" style="font-size:48.76px">a</text>
<text transform="translate(73.40 1268.95) scale(1.0462 1)" class="tk" style="font-size:30.88px">0.2</text>
<text transform="translate(73.65 1482.90) scale(1.0263 1)" class="tk" style="font-size:30.34px">0.0</text>
<text transform="translate(55.95 1695.55) scale(0.9631 1)" class="tk" style="font-size:32.45px">−0.2</text>
<text transform="translate(55.40 1906.75) scale(1.0265 1)" class="tk" style="font-size:30.05px">−0.4</text>
<text transform="translate(308.55 1951.75) scale(0.9666 1)" class="tk" style="font-size:32.05px">−0.25</text>
<text transform="translate(609.75 1950.20) scale(0.9687 1)" class="tk" style="font-size:31.81px">0.00</text>
<text transform="translate(901.75 1950.20) scale(0.9687 1)" class="tk" style="font-size:31.81px">0.25</text>
<text transform="translate(592.45 1995.15) scale(0.9626 1)" class="ttl" style="font-size:38.01px">NMDS1</text>
<text transform="translate(38.90 1558.80) rotate(-90) scale(0.9329 1)" class="ttl" style="font-size:40.51px">NMDS2</text>
<text transform="translate(1241.55 1352.10) scale(1.0540 1)" class="ttl" style="font-size:35.92px">Region</text>
<text transform="translate(1319.20 1414.15) scale(0.9407 1)" class="lg" style="font-size:32.45px">CNEA</text>
<text transform="translate(1317.85 1472.85) scale(1.0123 1)" class="lg" style="font-size:31.84px">EM</text>
<text transform="translate(1318.50 1532.00) scale(0.9730 1)" class="lg" style="font-size:31.54px">NNEA</text>
<text transform="translate(1319.30 1590.10) scale(0.9405 1)" class="lg" style="font-size:32.53px">SNEA</text>
<text transform="translate(1319.20 1649.50) scale(0.9689 1)" class="lg" style="font-size:32.14px">WM</text>
<text transform="translate(1356.40 1094.05) scale(0.9207 1)" class="lab" style="font-size:45.70px">b</text>
</svg>
</body></html>
